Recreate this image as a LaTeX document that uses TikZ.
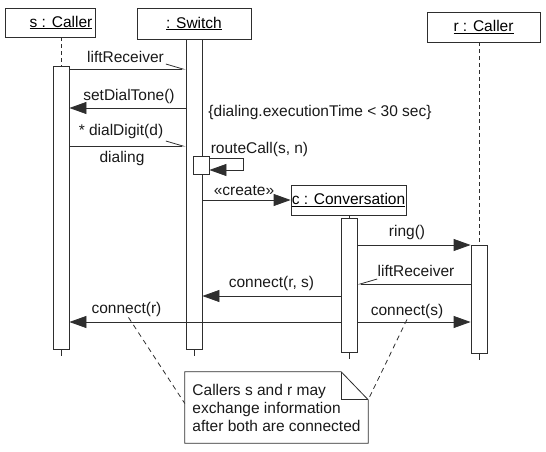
\documentclass[tikz,border=0pt]{standalone}
\usepackage{fontspec}
\setmainfont{Liberation Sans}
\usetikzlibrary{arrows.meta}
\begin{document}
\begin{tikzpicture}[x=1pt,y=-1pt,
  ln/.style={draw=black!82, line width=0.8pt},
  txt/.style={font=\fontsize{15.5}{18}\selectfont, inner sep=0pt, text=black!90},
  obj/.style={ln, fill=white, inner sep=0pt, font=\fontsize{15.5}{18}\selectfont},
  bar/.style={ln, fill=white, minimum width=16pt, inner sep=0pt, anchor=north},
  life/.style={ln, dash pattern=on 4pt off 3pt},
  tail/.style={ln},
  sync/.style={ln, -{Triangle[length=17pt,width=12pt]}},
  async/.style={ln, -{Straight Barb[harpoon,length=17pt,width=10pt]}},
  asyncs/.style={ln, -{Straight Barb[harpoon,swap,length=17pt,width=10pt]}},
  anchorline/.style={ln, dash pattern=on 5pt off 4pt}]
\useasboundingbox (0,0) rectangle (546,452);

% objects
\node[obj, minimum width=90pt, minimum height=29pt] (s) at (50,22.5) {\hspace*{22pt}\underline{s : Caller}};
\node[obj, minimum width=114pt, minimum height=31pt] (w) at (194,23.5) {\underline{: Switch}};
\node[obj, minimum width=113pt, minimum height=30pt] (r) at (483.5,27) {\underline{r : Caller}};

% activation bars
\node[bar, minimum height=283pt] (sbar) at (61,66) {};
\node[bar, minimum height=310pt] (wbar) at (194,39) {};
\node[bar, minimum height=134pt] (cbar) at (349,218) {};
\node[bar, minimum height=108pt] (rbar) at (479,245) {};
\node[bar, minimum height=18pt] (nbar) at (201,156) {};

\node[obj, minimum width=115pt, minimum height=30pt] (c) at (348.5,200) {\underline{c : Conversation}};

% lifelines
\draw[life] (s.south -| sbar.north) -- (sbar.north);
\draw[life] (r.south -| rbar.north) -- (rbar.north);
\draw[tail] (c.south -| cbar.north) -- (cbar.north);
\draw[tail] (sbar.south) -- ++(0,6);
\draw[tail] (wbar.south) -- ++(0,6);
\draw[tail] (cbar.south) -- ++(0,6);
\draw[tail] (rbar.south) -- ++(0,6);

% messages
\draw[async] (sbar.east |- 0,69) -- (wbar.west |- 0,69);
\node[txt] (m1) at (125.5,57) {liftReceiver};

\draw[sync] (wbar.west |- 0,108) -- (sbar.east |- 0,108);
\node[txt] (m2) at (129,96) {setDialTone()};

\node[txt] (cons) at (320,112) {\{dialing.executionTime < 30 sec\}};

\draw[async] (sbar.east |- 0,146) -- (wbar.west |- 0,146);
\node[txt] (m3) at (121,131) {* dialDigit(d)};
\node[txt] (dl) at (122,158) {dialing};

\draw[sync] (nbar.east |- 0,158) -- ++(34,0) -- ++(0,12) -- (nbar.east |- 0,170);
\node[txt] (m4) at (259.5,149) {routeCall(s, n)};

\draw[sync] (wbar.east |- c.west) -- (c.west);
\node[txt] (m5) at (244,191) {«create»};

\draw[sync] (cbar.east |- 0,245) -- (rbar.west |- 0,245);
\node[txt] (m6) at (407,232) {ring()};

\draw[asyncs] (rbar.west |- 0,284) -- (cbar.east |- 0,284);
\node[txt] (m7) at (416,271) {liftReceiver};

\draw[sync] (cbar.west |- 0,296) -- (wbar.east |- 0,296);
\node[txt] (m8) at (271.5,283) {connect(r, s)};

\draw[sync] (cbar.west |- 0,322) -- (sbar.east |- 0,322);
\node[txt] (m9) at (126.5,309) {connect(r)};

\draw[sync] (cbar.east |- 0,322) -- (rbar.west |- 0,322);
\node[txt] (m10) at (407,311) {connect(s)};

% note
\node[txt, minimum width=183pt, minimum height=71pt, align=left] (note) at (276.5,407.5)
  {Callers s and r may\\exchange information\\after both are connected};
\draw[ln, fill=none] (note.north west) -- ([xshift=-27pt]note.north east)
  -- ([yshift=-28pt]note.north east) -- (note.south east) -- (note.south west) -- cycle;
\draw[ln] ([xshift=-27pt]note.north east) -- ([xshift=-27pt,yshift=-28pt]note.north east)
  -- ([yshift=-28pt]note.north east);
\draw[anchorline] ([xshift=2pt,yshift=-1pt]m9.south) -- ([yshift=4pt]note.west);
\draw[anchorline] ([yshift=-1pt]m10.south) -- ([yshift=-28pt]note.north east);
\end{tikzpicture}
\end{document}
